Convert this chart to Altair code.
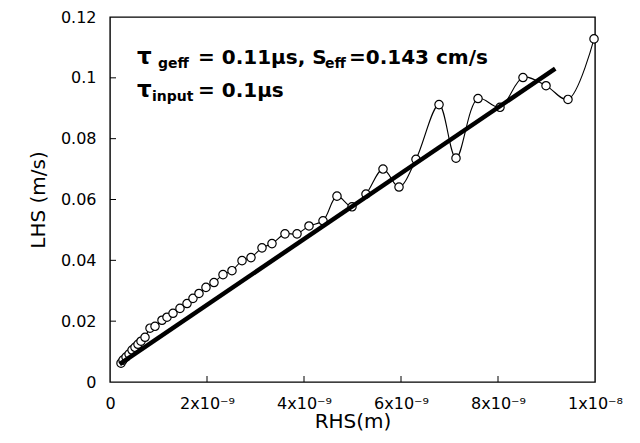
import json
import altair as alt
import pandas as pd

# ---- data ----
rhs = [0.227e-9, 0.268e-9, 0.330e-9, 0.392e-9, 0.454e-9, 0.515e-9, 0.577e-9, 0.639e-9,
       0.722e-9, 0.825e-9, 0.928e-9, 1.072e-9, 1.175e-9, 1.299e-9, 1.443e-9, 1.588e-9,
       1.711e-9, 1.835e-9, 1.979e-9, 2.144e-9, 2.330e-9, 2.515e-9, 2.722e-9, 2.907e-9,
       3.134e-9, 3.340e-9, 3.608e-9, 3.856e-9, 4.103e-9, 4.392e-9, 4.680e-9, 4.990e-9,
       5.278e-9, 5.629e-9, 5.959e-9, 6.309e-9, 6.784e-9, 7.134e-9, 7.588e-9, 8.041e-9,
       8.515e-9, 8.990e-9, 9.443e-9, 9.980e-9]
lhs = [0.0062, 0.0072, 0.0082, 0.0092, 0.0105, 0.0114, 0.0124, 0.0134,
       0.0147, 0.0177, 0.0183, 0.0203, 0.0213, 0.0226, 0.0242, 0.0258,
       0.0275, 0.0291, 0.0311, 0.0327, 0.0353, 0.0366, 0.0399, 0.0409,
       0.0441, 0.0455, 0.0487, 0.0487, 0.0513, 0.0530, 0.0611, 0.0576,
       0.0618, 0.0700, 0.0641, 0.0732, 0.0912, 0.0736, 0.0932, 0.0903,
       0.1001, 0.0974, 0.0929, 0.1128]
fit_rhs = [0.2e-9, 9.18e-9]
fit_lhs = [0.0059, 0.1030]

x_ticks = [0, 2e-9, 4e-9, 6e-9, 8e-9, 1e-8]
x_tick_labels = ["0", "2x10⁻⁹", "4x10⁻⁹", "6x10⁻⁹", "8x10⁻⁹", "1x10⁻⁸"]
y_ticks = [0, 0.02, 0.04, 0.06, 0.08, 0.1, 0.12]
y_tick_labels = ["0", "0.02", "0.04", "0.06", "0.08", "0.1", "0.12"]

ann_line1 = ["τ", "geff", "= 0.11μs, S", "eff", "=0.143 cm/s"]
ann_line2 = ["τ", "input", "= 0.1μs"]

FONT = "DejaVu Sans"
W, H = 485, 365

df = pd.DataFrame({"RHS": rhs, "LHS": lhs})
fit = pd.DataFrame({"RHS": fit_rhs, "LHS": fit_lhs})
xt = pd.DataFrame({"RHS": x_ticks[1:-1]})
yt = pd.DataFrame({"LHS": y_ticks[1:-1]})

xscale = alt.Scale(domain=[0, 1e-8], nice=False, zero=False)
yscale = alt.Scale(domain=[0, 0.12], nice=False, zero=False)

x_expr = json.dumps(x_tick_labels, ensure_ascii=False) + "[round(datum.value/2e-9)]"
y_expr = json.dumps(y_tick_labels) + "[round(datum.value/0.02)]"

xenc = alt.X("RHS:Q", scale=xscale, title="RHS(m)",
             axis=alt.Axis(values=x_ticks, labelExpr=x_expr, grid=False, ticks=False,
                           tickSize=0, domain=False, labelPadding=13, titlePadding=0,
                           labelFlush=False, labelFont=FONT, labelFontSize=16,
                           labelColor="black", titleFont=FONT, titleFontSize=20,
                           titleFontWeight="normal", titleColor="black"))
yenc = alt.Y("LHS:Q", scale=yscale, title="LHS (m/s)",
             axis=alt.Axis(values=y_ticks, labelExpr=y_expr, grid=False, ticks=False,
                           tickSize=0, domain=False, labelPadding=14, titlePadding=12,
                           labelFlush=False, labelFont=FONT, labelFontSize=16,
                           labelColor="black", titleFont=FONT, titleFontSize=20,
                           titleFontWeight="normal", titleColor="black"))
xenc2 = alt.X("RHS:Q", scale=xscale, title="RHS(m)")
yenc2 = alt.Y("LHS:Q", scale=yscale, title="LHS (m/s)")

curve = alt.Chart(df).mark_line(color="black", strokeWidth=1.1,
                                interpolate="catmull-rom").encode(x=xenc, y=yenc)
pts = alt.Chart(df).mark_point(shape="circle", filled=True, fill="white", stroke="black",
                               strokeWidth=1.2, size=70, opacity=1).encode(x=xenc2, y=yenc2)
fitline = alt.Chart(fit).mark_line(color="black", strokeWidth=4.5).encode(x=xenc2, y=yenc2)

xticks = alt.Chart(xt).mark_rule(color="black", strokeWidth=1).encode(
    x=xenc2, y=alt.value(H), y2=alt.value(H - 6))
yticks = alt.Chart(yt).mark_rule(color="black", strokeWidth=1).encode(
    y=yenc2, x=alt.value(0), x2=alt.value(6))

dummy = pd.DataFrame({"d": [0]})


def txt(s, x, y, size):
    return alt.Chart(dummy).mark_text(align="left", baseline="alphabetic", font=FONT,
                                      fontWeight="bold", fontSize=size, color="black").encode(
        x=alt.value(x), y=alt.value(y), text=alt.value(s))


ann = [
    txt(ann_line1[0], 27, 47, 23),
    txt(ann_line1[1], 48, 51, 14),
    txt(ann_line1[2], 88, 47, 20),
    txt(ann_line1[3], 215, 51, 14),
    txt(ann_line1[4], 239, 47, 20),
    txt(ann_line2[0], 27, 80, 23),
    txt(ann_line2[1], 42, 84, 14),
    txt(ann_line2[2], 88, 80, 20),
]

chart = alt.layer(curve, pts, fitline, xticks, yticks, *ann).properties(
    width=W, height=H,
    padding={"left": 102, "top": 9, "right": 35, "bottom": 50},
    autosize=alt.AutoSizeParams(type="none"),
).configure_view(stroke="black", strokeWidth=1.4)

chart.save("out.html", embed_options={"renderer": "svg", "actions": False})
